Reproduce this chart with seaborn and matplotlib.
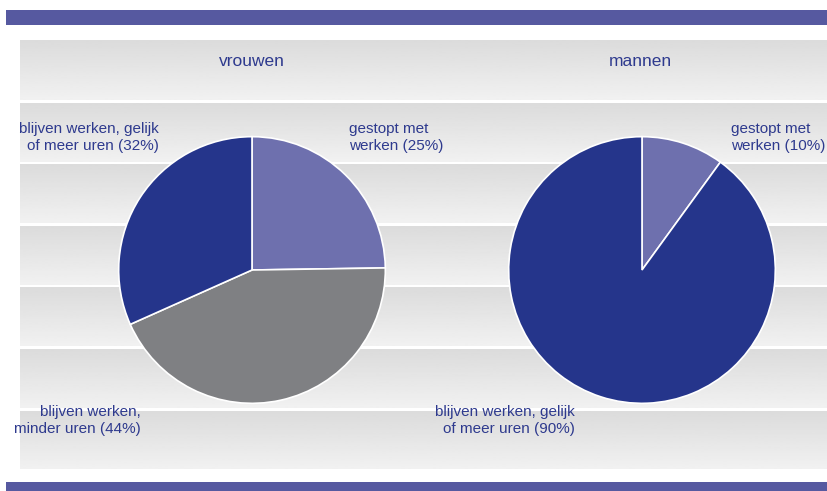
import numpy as np
import matplotlib
matplotlib.use("Agg")
import matplotlib.pyplot as plt
import seaborn as sns

# data
groups = ["vrouwen", "mannen"]
vrouwen_labels = ["gestopt met\nwerken (25%)", "blijven werken,\nminder uren (44%)",
                  "blijven werken, gelijk\nof meer uren (32%)"]
vrouwen_values = [25, 44, 32]
mannen_labels = ["gestopt met\nwerken (10%)", "blijven werken, gelijk\nof meer uren (90%)"]
mannen_values = [10, 90]

sns.set_theme(style="white")
plt.rcParams['font.family'] = ['Liberation Sans', 'DejaVu Sans']

c_stop = "#6e70ae"
c_less = "#7f8083"
c_same = "#25358b"
c_bar = "#5659a0"
c_text = "#2e3a8e"

W, H = 828, 491
fig = plt.figure(figsize=(W / 100, H / 100), dpi=100)

# background in pixel coords
bg = fig.add_axes([0, 0, 1, 1])
bg.axis("off")
bg.add_patch(plt.Rectangle((6, 10), W - 6, 15, color=c_bar, lw=0))
bg.add_patch(plt.Rectangle((6, 482), W - 6, 9, color=c_bar, lw=0))
grad = np.linspace(0.86, 0.945, 50).reshape(-1, 1)
bands = [(40, 100), (103, 162), (164, 223), (226, 285), (287, 346), (349, 408), (411, 469)]
for y0, y1 in bands:
    bg.imshow(grad, cmap="gray", vmin=0, vmax=1, aspect="auto",
              extent=(20, W, y1, y0), interpolation="bilinear")
bg.set_xlim(0, W)
bg.set_ylim(H, 0)


def pie_axes(cx, cy, r):
    return fig.add_axes([(cx - r) / W, (H - cy - r) / H, 2 * r / W, 2 * r / H])


ax1 = pie_axes(252, 270, 134)
ax1.pie(vrouwen_values, colors=[c_stop, c_less, c_same], startangle=90, counterclock=False,
        radius=1, wedgeprops=dict(edgecolor="white", linewidth=1.2))
ax2 = pie_axes(642, 270, 134)
ax2.pie(mannen_values, colors=[c_stop, c_same], startangle=90, counterclock=False,
        radius=1, wedgeprops=dict(edgecolor="white", linewidth=1.2))
for ax in (ax1, ax2):
    ax.set_xlim(-1.005, 1.005)
    ax.set_ylim(-1.005, 1.005)
    ax.set_aspect("auto")
    ax.axis("off")

def txt(x, y, s, ha="left", size=11):
    bg.text(x, y, s, ha=ha, va="top", color=c_text, fontsize=size, linespacing=1.25)

txt(252, 54, groups[0], ha="center", size=12.5)
txt(640, 54, groups[1], ha="center", size=12.5)
txt(349, 122, vrouwen_labels[0])
txt(141, 405, vrouwen_labels[1], ha="right")
txt(159, 122, vrouwen_labels[2], ha="right")
txt(731, 122, mannen_labels[0])
txt(575, 405, mannen_labels[1], ha="right")

fig.savefig("out.png", dpi=100)
